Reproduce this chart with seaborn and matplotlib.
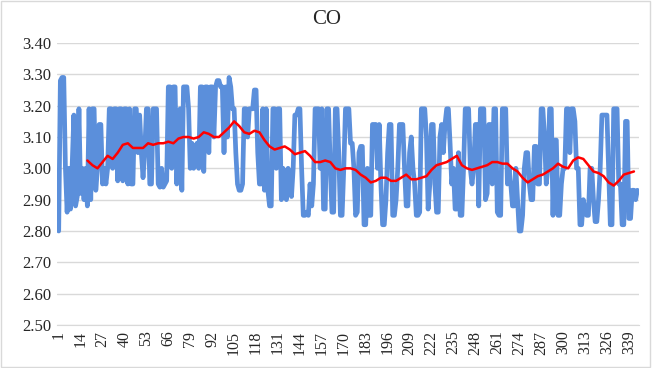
import numpy as np
import pandas as pd
import matplotlib
matplotlib.use("Agg")
import matplotlib.pyplot as plt
from matplotlib.patches import Rectangle
import seaborn as sns

# CO readings (blue series)
co_values = [
    2.80, 3.28, 3.29, 3.29, 3.00, 2.86, 3.00, 2.87, 3.01, 3.17,
    2.88, 2.91, 3.19, 2.92, 3.00, 2.90, 3.00, 2.88, 3.19, 2.90,
    3.19, 3.19, 2.93, 3.00, 3.14, 3.14, 2.95, 3.00, 2.95, 3.00,
    3.19, 3.19, 3.00, 3.19, 3.19, 2.96, 3.19, 3.19, 2.96, 3.19,
    3.19, 2.95, 3.19, 2.95, 2.95, 3.19, 3.19, 3.05, 3.17, 3.05,
    2.97, 3.05, 3.19, 3.19, 2.95, 2.95, 3.19, 3.19, 3.19, 2.95,
    2.94, 3.00, 2.94, 2.95, 2.96, 3.26, 3.26, 3.00, 3.26, 3.26,
    2.95, 3.10, 3.19, 2.93, 3.26, 3.26, 3.26, 3.19, 3.00, 3.08,
    3.00, 3.05, 3.08, 3.00, 3.26, 3.26, 2.99, 3.26, 3.26, 3.05,
    3.26, 3.26, 3.10, 3.26, 3.28, 3.28, 3.26, 3.26, 3.05, 3.26,
    3.10, 3.29, 3.26, 3.19, 3.19, 3.05, 2.95, 2.93, 2.93, 2.95,
    3.19, 3.19, 3.10, 3.19, 3.19, 3.19, 3.25, 3.25, 3.05, 2.95,
    2.95, 3.19, 2.93, 3.19, 2.93, 2.88, 2.88, 3.19, 3.19, 3.00,
    3.19, 3.19, 2.90, 3.00, 2.92, 2.90, 3.00, 2.95, 2.91, 3.00,
    3.17, 3.17, 3.19, 3.19, 3.00, 2.85, 2.85, 2.86, 2.85, 2.95,
    2.88, 2.95, 3.19, 3.19, 3.19, 3.00, 3.19, 2.87, 2.87, 3.19,
    3.19, 3.00, 2.86, 2.86, 3.19, 3.19, 3.05, 2.85, 2.85, 3.00,
    3.19, 3.19, 3.19, 3.08, 3.08, 3.00, 2.85, 2.86, 3.05, 3.07,
    3.07, 2.82, 2.82, 3.00, 2.85, 2.85, 3.14, 3.14, 3.14, 3.00,
    3.14, 2.95, 2.82, 2.82, 2.90, 3.05, 3.14, 3.14, 2.85, 2.85,
    2.90, 3.00, 3.14, 3.14, 3.14, 3.00, 2.88, 2.88, 3.05, 3.10,
    3.00, 2.95, 2.85, 2.85, 2.86, 3.19, 3.19, 3.19, 3.10, 2.87,
    2.95, 3.14, 3.14, 2.95, 2.86, 2.86, 3.10, 3.14, 3.05, 3.14,
    3.19, 3.19, 3.08, 2.95, 3.00, 2.87, 2.87, 3.05, 2.85, 2.85,
    3.00, 3.19, 3.19, 3.19, 3.00, 2.95, 3.00, 3.14, 3.14, 2.88,
    3.19, 3.19, 3.19, 2.90, 2.92, 3.14, 3.14, 2.95, 3.19, 3.19,
    2.86, 2.85, 2.85, 3.19, 3.19, 3.19, 2.95, 3.00, 2.95, 2.88,
    2.88, 3.00, 2.90, 2.80, 2.80, 2.85, 3.00, 3.05, 3.05, 2.95,
    2.90, 2.90, 3.07, 3.07, 2.95, 2.95, 3.19, 3.19, 3.10, 2.95,
    3.00, 3.19, 3.19, 2.85, 3.09, 3.09, 2.85, 2.85, 2.95, 3.00,
    3.00, 3.19, 3.19, 3.05, 3.19, 3.19, 3.15, 3.00, 3.00, 2.82,
    2.82, 2.90, 2.87, 2.85, 2.85, 3.00, 3.00, 2.90, 2.83, 2.83,
    2.90, 3.00, 3.17, 3.17, 3.17, 3.17, 3.00, 2.82, 2.82, 3.19,
    3.19, 3.19, 2.95, 2.95, 2.82, 2.82, 3.15, 3.15, 2.84, 2.84,
    2.93, 2.93, 2.90, 2.93,
]
sample_no = list(range(1, len(co_values) + 1))

# moving average (red line), read every third sample from 18 to 342
trend_no = list(range(18, 343, 3))
trend_values = [
    3.025, 3.01, 3.00, 3.02, 3.04, 3.03, 3.05, 3.075, 3.08, 3.065,
    3.065, 3.065, 3.08, 3.075, 3.08, 3.08, 3.085, 3.08, 3.095, 3.10,
    3.10, 3.095, 3.10, 3.115, 3.11, 3.10, 3.10, 3.115, 3.13, 3.15,
    3.135, 3.115, 3.11, 3.12, 3.115, 3.09, 3.07, 3.06, 3.065, 3.07,
    3.06, 3.045, 3.05, 3.055, 3.04, 3.02, 3.02, 3.025, 3.02, 3.00,
    2.995, 3.00, 3.00, 2.995, 2.98, 2.97, 2.955, 2.96, 2.97, 2.97,
    2.96, 2.96, 2.97, 2.98, 2.965, 2.965, 2.97, 2.975, 2.995, 3.01,
    3.015, 3.02, 3.03, 3.04, 3.01, 3.00, 2.995, 3.00, 3.005, 3.01,
    3.02, 3.02, 3.015, 3.015, 3.00, 2.99, 2.97, 2.955, 2.965, 2.975,
    2.98, 2.99, 3.00, 3.015, 3.005, 3.00, 3.025, 3.035, 3.03, 3.01,
    2.99, 2.985, 2.975, 2.955, 2.945, 2.96, 2.98, 2.985, 2.99,
]

x_ticks = list(range(1, len(co_values) + 1, 13))
y_ticks = [2.50, 2.60, 2.70, 2.80, 2.90, 3.00, 3.10, 3.20, 3.30, 3.40]

df_co = pd.DataFrame({"sample": sample_no, "co": co_values})
df_trend = pd.DataFrame({"sample": trend_no, "co": trend_values})

sns.set_style("white")
plt.rcParams["font.family"] = ["Liberation Serif", "DejaVu Serif"]

fig = plt.figure(figsize=(6.54, 3.68), dpi=100)
ax = fig.add_axes([57 / 654, 1 - 325 / 368, (639 - 57) / 654, (325 - 43) / 368])

sns.lineplot(data=df_co, x="sample", y="co", ax=ax, color="#5B8FDB",
             linewidth=3.4)
sns.lineplot(data=df_trend, x="sample", y="co", ax=ax, color="#FF0000",
             linewidth=1.8)

ax.set_xlim(0, len(co_values) + 1)
ax.set_ylim(2.50, 3.40)
ax.set_yticks(y_ticks)
ax.set_yticklabels([f"{v:.2f}" for v in y_ticks], fontsize=12)
ax.set_xticks(x_ticks)
ax.set_xticklabels([str(v) for v in x_ticks], rotation=90, fontsize=11.5)
ax.grid(axis="y", color="#D9D9D9", linewidth=1.0)
ax.set_axisbelow(True)
ax.tick_params(length=0, pad=4)
for s in ["top", "right", "left"]:
    ax.spines[s].set_visible(False)
ax.spines["bottom"].set_color("#D9D9D9")
ax.set_xlabel("")
ax.set_ylabel("")

fig.text(0.5, 1 - 20 / 368, "CO", ha="center", va="center", fontsize=15)

# chart border
fig.patches.append(Rectangle((0.002, 0.003), 0.992, 0.994, transform=fig.transFigure,
                             fill=False, edgecolor="#D9D9D9", linewidth=1.0))

plt.savefig("out.png", dpi=100)
plt.close()
